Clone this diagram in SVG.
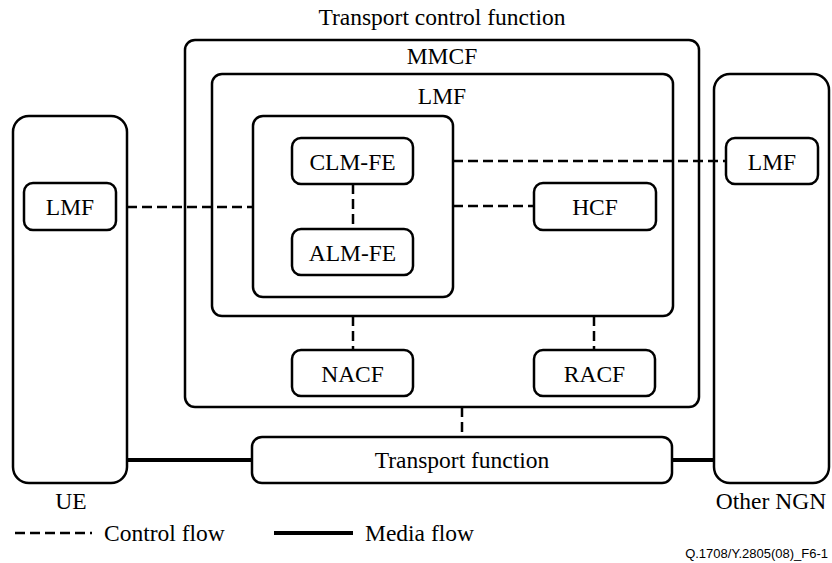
<svg xmlns="http://www.w3.org/2000/svg" width="832" height="563" viewBox="0 0 832 563">
<style>
.box{fill:#fff;stroke:#000;stroke-width:2.5}
.t{font-family:'Liberation Serif','Times New Roman',serif;font-size:23.5px;fill:#000;text-anchor:middle}
.d{stroke:#000;stroke-width:2.5;stroke-dasharray:10 5;fill:none}
.m{stroke:#000;stroke-width:4;fill:none}
</style>
<rect width="832" height="563" fill="#fff"/>
<g id="tcf">
<rect class="box" x="185" y="40" width="514" height="367" rx="10"/>
<text class="t" x="442" y="25">Transport control function</text>
</g>
<g id="mmcf">
<rect class="box" x="212" y="74" width="461" height="242" rx="10"/>
<text class="t" x="442" y="64">MMCF</text>
</g>
<g id="lmf-main">
<rect class="box" x="253" y="116" width="200" height="181" rx="10"/>
<text class="t" x="442" y="104">LMF</text>
</g>
<g id="ue">
<rect class="box" x="13" y="116" width="114" height="367" rx="16"/>
<text class="t" x="71" y="509">UE</text>
</g>
<g id="ngn">
<rect class="box" x="714" y="74" width="115" height="409" rx="16"/>
<text class="t" x="771" y="509">Other NGN</text>
</g>
<g id="connectors">
<line class="d" x1="127" y1="207" x2="253" y2="207"/>
<line class="d" x1="453" y1="161" x2="726" y2="161"/>
<line class="d" x1="453" y1="206" x2="534" y2="206"/>
<line class="d" x1="353" y1="184" x2="353" y2="229"/>
<line class="d" x1="353" y1="316" x2="353" y2="350"/>
<line class="d" x1="594" y1="316" x2="594" y2="350"/>
<line class="d" x1="462" y1="407" x2="462" y2="437"/>
<line class="m" x1="127" y1="460" x2="252" y2="460"/>
<line class="m" x1="672" y1="460" x2="714" y2="460"/>
</g>
<g id="ue-lmf">
<rect class="box" x="24" y="183" width="92" height="47" rx="9"/>
<text class="t" x="70" y="215">LMF</text>
</g>
<g id="clm">
<rect class="box" x="292" y="138" width="121" height="46" rx="9"/>
<text class="t" x="352.5" y="170">CLM-FE</text>
</g>
<g id="alm">
<rect class="box" x="292" y="229" width="121" height="46" rx="9"/>
<text class="t" x="352.5" y="261">ALM-FE</text>
</g>
<g id="hcf">
<rect class="box" x="534" y="183" width="122" height="47" rx="9"/>
<text class="t" x="595" y="215">HCF</text>
</g>
<g id="ngn-lmf">
<rect class="box" x="726" y="138" width="92" height="46" rx="9"/>
<text class="t" x="772" y="170">LMF</text>
</g>
<g id="nacf">
<rect class="box" x="292" y="350" width="121" height="46" rx="9"/>
<text class="t" x="352.5" y="382">NACF</text>
</g>
<g id="racf">
<rect class="box" x="534" y="350" width="121" height="46" rx="9"/>
<text class="t" x="594.5" y="382">RACF</text>
</g>
<g id="tf">
<rect class="box" x="252" y="437" width="420" height="46" rx="10"/>
<text class="t" x="462" y="468">Transport function</text>
</g>
<g id="legend">
<line class="d" x1="15" y1="533" x2="92" y2="533" stroke-dasharray="9 4.6"/>
<text class="t" x="104" y="541" style="text-anchor:start">Control flow</text>
<line class="m" x1="274" y1="533" x2="353" y2="533"/>
<text class="t" x="365" y="541" style="text-anchor:start">Media flow</text>
<text x="828" y="558" style="font-family:'Liberation Sans',Arial,sans-serif;font-size:13px;text-anchor:end">Q.1708/Y.2805(08)_F6-1</text>
</g>
</svg>
